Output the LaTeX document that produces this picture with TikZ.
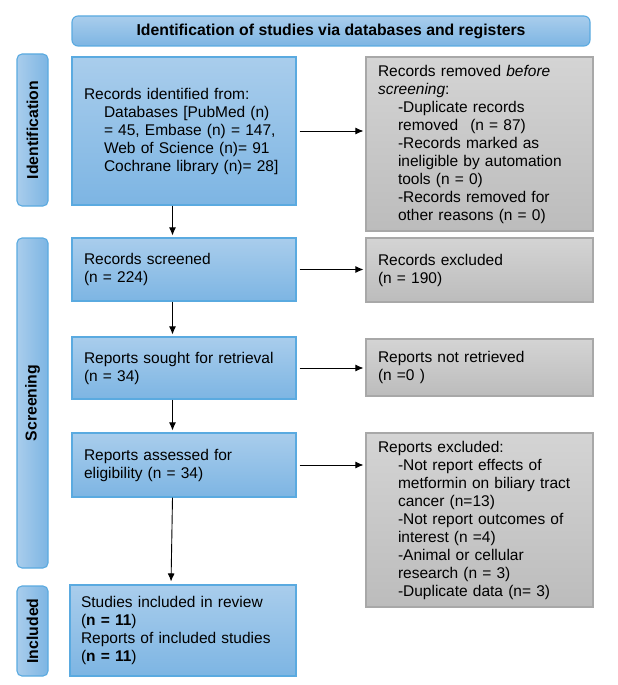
\documentclass[tikz,border=0pt]{standalone}
\usepackage{fontspec}
\setmainfont{Liberation Sans}
\usepackage{graphicx}
\usetikzlibrary{arrows.meta}
\definecolor{bluetop}{HTML}{A9CDEC}
\definecolor{bluebot}{HTML}{7DB5E3}
\definecolor{blueline}{HTML}{5AAAE0}
\definecolor{graytop}{HTML}{D4D4D4}
\definecolor{graybot}{HTML}{BCBCBC}
\definecolor{grayline}{HTML}{A8A8A8}
\newcommand{\ind}{\hspace*{20pt}}
\begin{document}
\begin{tikzpicture}[x=1pt,y=-1pt,
  every node/.style={font=\fontsize{15.5}{18}\selectfont, text=black},
  bluebox/.style={draw=blueline, line width=1.1pt, top color=bluetop, bottom color=bluebot,
     inner xsep=12pt, inner ysep=0pt, minimum width=224pt, text width=200pt, align=left},
  graybox/.style={draw=grayline, line width=1.1pt, top color=graytop, bottom color=graybot,
     inner xsep=12pt, inner ysep=0pt, minimum width=227pt, text width=203pt, align=left},
  sidebox/.style={draw=blueline, line width=1.1pt, left color=bluetop, right color=bluebot,
     rounded corners=5pt, minimum width=31pt, inner sep=0pt,
     font=\fontsize{15.8}{18}\selectfont\bfseries},
  banner/.style={draw=blueline, line width=1.1pt, top color=bluetop, bottom color=bluebot,
     rounded corners=6pt, minimum width=518pt, minimum height=30pt, inner sep=0pt,
     font=\fontsize{15.8}{18}\selectfont\bfseries},
  arr/.style={line width=0.9pt, -{Latex[length=8pt,width=7pt]}}
]
\useasboundingbox (0,0) rectangle (618,685);

\node[banner] (ban) at (331,31) {Identification of studies via databases and registers};

\node[sidebox, minimum height=152pt] (idl) at (32.5,130) {\rotatebox{90}{Identification}};
\node[sidebox, minimum height=330pt] (scl) at (32.5,403) {\rotatebox{90}{Screening}};
\node[sidebox, minimum height=90pt] (inl) at (32.5,631) {\rotatebox{90}{Included}};

\node[bluebox, minimum height=148pt] (a1) at (184,131) {Records identified from:\\
\ind Databases [PubMed (n)\\
\ind = 45, Embase (n) = 147,\\
\ind Web of Science (n)= 91\\
\ind Cochrane library (n)= 28]};

\node[graybox, minimum height=174pt] (g1) at (479.5,144) {Records removed \textit{before}\\
\textit{screening}:\\
\ind -Duplicate records\\
\ind removed\hspace{12pt}(n = 87)\\
\ind -Records marked as\\
\ind ineligible by automation\\
\ind tools (n = 0)\\
\ind -Records removed for\\
\ind other reasons (n = 0)};

\node[bluebox, minimum height=63pt] (a2) at (184,269.5) {Records screened\\(n = 224)};
\node[graybox, minimum height=64pt] (g2) at (479.5,270) {Records excluded\\(n = 190)};

\node[bluebox, minimum height=62pt] (a3) at (184,368) {Reports sought for retrieval\\(n = 34)};
\node[graybox, minimum height=57pt] (g3) at (479.5,367.5) {Reports not retrieved\\(n =0 )};

\node[bluebox, minimum height=64pt] (a4) at (184,465) {Reports assessed for\\eligibility (n = 34)};
\node[graybox, minimum height=174pt] (g4) at (479.5,520) {Reports excluded:\\
\ind -Not report effects of\\
\ind metformin on biliary tract\\
\ind cancer (n=13)\\
\ind -Not report outcomes of\\
\ind interest (n =4)\\
\ind -Animal or cellular\\
\ind research (n = 3)\\
\ind -Duplicate data (n= 3)};

\node[bluebox, minimum width=226pt, inner xsep=11pt, text width=204pt, minimum height=91pt] (inc) at (183,630.5) {Studies included in review\\
(\textbf{n = 11})\\
Reports of included studies\\
(\textbf{n = 11})};

\coordinate (col) at (172.5,0);
\coordinate (col2) at (171,0);

\draw[arr, shorten <=3pt, shorten >=2pt] (a1.east) -- (g1.west |- a1.east);
\draw[arr, shorten <=3pt, shorten >=2pt] (a2.east) -- (g2.west |- a2.east);
\draw[arr, shorten <=3pt, shorten >=2pt] (a3.east) -- (g3.west |- a3.east);
\draw[arr, shorten <=3pt, shorten >=2pt] (a4.east) -- (g4.west |- a4.east);

\draw[arr, shorten >=2pt] (a1.south -| col) -- (a2.north -| col);
\draw[arr, shorten >=2pt] (a2.south -| col) -- (a3.north -| col);
\draw[arr, shorten >=2pt] (a3.south -| col) -- (a4.north -| col);
\draw[arr, shorten >=3pt] (a4.south -| col) -- (inc.north -| col2);
\end{tikzpicture}
\end{document}
